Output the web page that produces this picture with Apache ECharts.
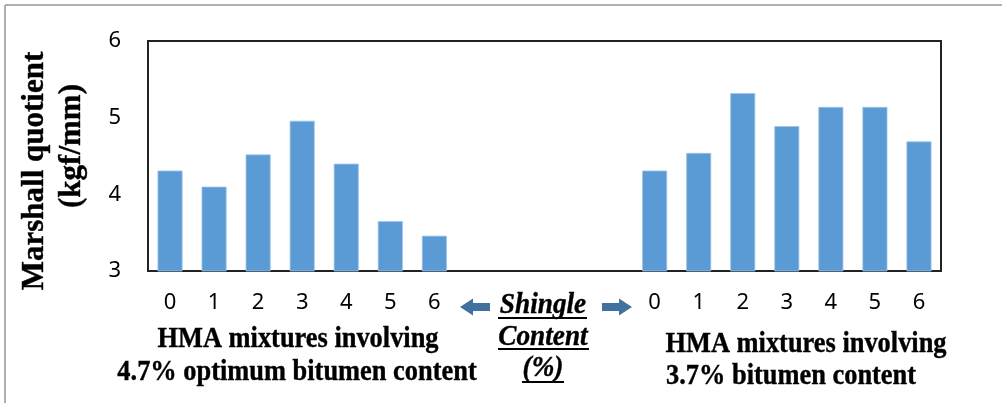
<!DOCTYPE html>
<html lang="en" style="height: 100%">
<head>
  <meta charset="utf-8">
</head>
<body style="height: 100%; margin: 0; background: #fff">
  <div id="container" style="width: 1002px; height: 403px"></div>

<script type="text/javascript" src="https://cdn.jsdelivr.net/npm/echarts@6/dist/echarts.min.js"></script>

<script type="text/javascript">
var dom = document.getElementById('container');
var myChart = echarts.init(dom, null, { renderer: 'canvas' });

// shingle content (%) for each group
var leftCats = ['0', '1', '2', '3', '4', '5', '6'];
var rightCats = ['0', '1', '2', '3', '4', '5', '6'];
// empty slots between the two groups
var gapCats = ['', '', '', ''];

// Marshall quotient (kgf/mm)
var leftValues = [4.31, 4.10, 4.52, 4.96, 4.40, 3.65, 3.46];   // 4.7% optimum bitumen
var rightValues = [4.31, 4.54, 5.32, 4.89, 5.14, 5.14, 4.69];  // 3.7% bitumen

var yTicks = [3, 4, 5, 6];

// build axis + series data
var categories = leftCats.concat(gapCats, rightCats);
var values = leftValues.concat(gapCats.map(function () { return '-'; }), rightValues);

var serif = 'Liberation Serif';
var sans = 'Noto Sans';
var arrowColor = '#41719c';

function bottomText(txt, x, y, align) {
  return {
    type: 'text', x: x, y: y, scaleX: 0.88,
    style: {
      text: txt, x: 0, y: 0, align: align || 'center', verticalAlign: 'middle',
      font: 'bold 30px "' + serif + '"', fill: '#000', stroke: '#000', lineWidth: 0.4
    }
  };
}

function midText(txt, x, y) {
  return {
    type: 'text', x: x, y: y, scaleX: 0.94,
    style: {
      text: txt, x: 0, y: 0, align: 'center', verticalAlign: 'middle',
      font: 'italic bold 29px "' + serif + '"', fill: '#000', stroke: '#000', lineWidth: 0.4
    }
  };
}

function underline(x1, x2, y) {
  return { type: 'line', shape: { x1: x1, y1: y, x2: x2, y2: y }, style: { stroke: '#000', lineWidth: 2 } };
}

function arrow(cx, cy, dir) {
  // dir = -1 points left, 1 points right
  var pts = [[-15, -4], [2, -4], [2, -8.5], [15, 0], [2, 8.5], [2, 4], [-15, 4]];
  return {
    type: 'polygon',
    x: cx, y: cy, scaleX: dir,
    shape: { points: pts },
    style: { fill: arrowColor }
  };
}

var option = {
  animation: false,
  grid: {
    left: 148, right: 61, top: 41, bottom: 132,
    show: true, borderColor: '#222', borderWidth: 2
  },
  xAxis: {
    type: 'category',
    data: categories,
    axisLine: { show: true, lineStyle: { color: '#222', width: 2 } },
    axisTick: { show: false },
    axisLabel: { interval: 0, color: '#000', fontSize: 22, fontFamily: sans, margin: 21 }
  },
  yAxis: {
    type: 'value',
    min: yTicks[0], max: yTicks[yTicks.length - 1], interval: 1,
    axisLine: { show: true, lineStyle: { color: '#222', width: 2 } },
    axisTick: { show: false },
    splitLine: { show: false },
    axisLabel: { color: '#000', fontSize: 22, fontFamily: sans, margin: 27 }
  },
  series: [
    {
      type: 'bar',
      data: values,
      barWidth: 25,
      itemStyle: { color: '#5b9bd5', borderColor: '#9dc3e6', borderWidth: 0.8 }
    }
  ],
  graphic: [
    // outer frame (top and left edges only visible)
    { type: 'line', shape: { x1: 5, y1: 5, x2: 1002, y2: 5 }, style: { stroke: '#b0b0b0', lineWidth: 2 } },
    { type: 'line', shape: { x1: 5, y1: 5, x2: 5, y2: 403 }, style: { stroke: '#b0b0b0', lineWidth: 2 } },
    // y axis title
    {
      type: 'text', x: 35, y: 171, rotation: Math.PI / 2,
      style: { text: 'Marshall quotient', x: 0, y: 0, align: 'center', verticalAlign: 'middle',
        font: 'bold 31px "' + serif + '"', fill: '#000', stroke: '#000', lineWidth: 0.4 }
    },
    {
      type: 'text', x: 72, y: 146, rotation: Math.PI / 2,
      style: { text: '(kgf/mm)', x: 0, y: 0, align: 'center', verticalAlign: 'middle',
        font: 'bold 31px "' + serif + '"', fill: '#000', stroke: '#000', lineWidth: 0.4 }
    },
    // group captions
    bottomText('HMA mixtures involving', 298, 339),
    bottomText('4.7% optimum bitumen content', 297, 372),
    bottomText('HMA mixtures involving', 806, 344),
    bottomText('3.7% bitumen content', 666, 376, 'left'),
    // middle axis caption
    midText('Shingle', 543, 306),
    midText('Content', 543, 338),
    midText('(%)', 543, 369),
    underline(498, 587, 318),
    underline(498, 589, 349),
    underline(522, 564, 382),
    arrow(475, 307, -1),
    arrow(617, 307, 1)
  ]
};

myChart.setOption(option);
window.addEventListener('resize', myChart.resize);
</script>
</body>
</html>
